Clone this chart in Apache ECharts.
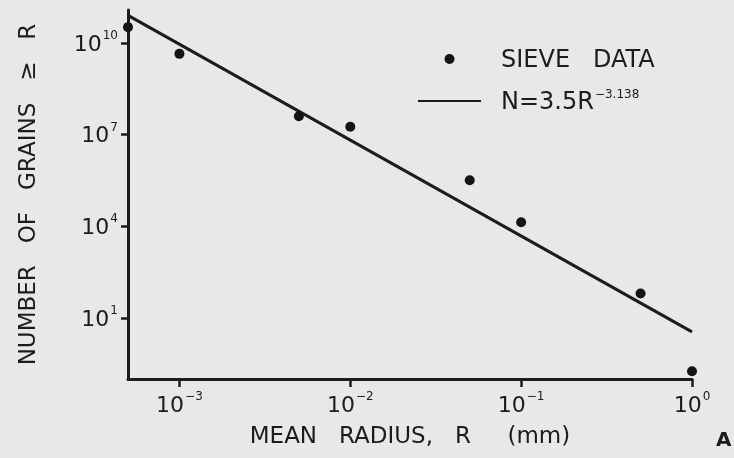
<!DOCTYPE html>
<html>
<head>
<meta charset="utf-8">
<script src="https://cdn.jsdelivr.net/npm/echarts@6/dist/echarts.min.js"></script>
<style>
html,body{margin:0;padding:0;background:#e8e8e6;}
#c{width:734px;height:458px;}
</style>
</head>
<body>
<div id="c"></div>
<script>
// Sieve data: mean radius R (mm) and number of grains >= R
const radius = [5e-4, 1e-3, 5e-3, 1e-2, 5e-2, 1e-1, 5e-1, 1];
const grains = [3.3e10, 4.4e9, 4.0e7, 1.8e7, 3.2e5, 1.35e4, 63, 0.18];
// Fitted power law N = 3.5 R^-3.138, endpoints
const fitR = [5e-4, 1];
const fitN = [8.0e10, 3.5];
const xTicks = [1e-3, 1e-2, 1e-1, 1];
const yTicks = [10, 1e4, 1e7, 1e10];

const FONT = 'DejaVu Sans';
const INK = '#1c1c1c';

function powLabel(v) {
  const e = Math.round(Math.log10(v));
  const es = e < 0 ? '\u2212' + (-e) : String(e);
  return '{b|10}{s|' + es + '}';
}
const richTick = {
  b: {fontSize: 22, fontFamily: FONT, color: INK, lineHeight: 26, verticalAlign: 'bottom'},
  s: {fontSize: 12, fontFamily: FONT, color: INK, lineHeight: 26, verticalAlign: 'top', padding: [0, 0, 0, 1]}
};

const chart = echarts.init(document.getElementById('c'));
chart.setOption({
  backgroundColor: '#e8e8e6',
  animation: false,
  title: {
    text: 'A', left: 711, top: 426,
    textStyle: {fontSize: 20, fontWeight: 'bold', fontFamily: FONT, color: INK}
  },
  grid: {left: 128, right: 42, top: 10, bottom: 79},
  legend: {
    orient: 'vertical', left: 417, top: 49, padding: 0, itemWidth: 63, itemHeight: 10, itemGap: 14,
    data: [
      {name: 'SIEVE DATA', icon: 'circle'},
      {name: 'FIT', itemStyle: {opacity: 0}}
    ],
    formatter: function (name) {
      if (name === 'FIT') return '{a|N=3.5R}{s|\u22123.138}';
      return '{a|SIEVE   DATA}';
    },
    textStyle: {
      color: INK,
      rich: {
        a: {fontSize: 24, fontFamily: FONT, color: INK, padding: [0, 0, 0, 15], lineHeight: 28, verticalAlign: 'bottom'},
        s: {fontSize: 12, fontFamily: FONT, color: INK, lineHeight: 28, verticalAlign: 'top', padding: [2, 0, 0, 1]}
      }
    }
  },
  xAxis: {
    type: 'log', min: 5e-4, max: 1,
    name: 'MEAN   RADIUS,   R     (mm)', nameLocation: 'middle', nameGap: 47,
    nameTextStyle: {fontSize: 23, fontFamily: FONT, color: INK},
    axisLine: {lineStyle: {color: INK, width: 3}},
    axisTick: {show: true, length: 8, lineStyle: {color: INK, width: 2.5}, customValues: xTicks},
    axisLabel: {customValues: xTicks, formatter: powLabel, rich: richTick, margin: 12},
    splitLine: {show: false}, minorTick: {show: false}
  },
  yAxis: {
    type: 'log', min: 0.1, max: 1.2e11,
    name: 'NUMBER   OF   GRAINS   \u2265   R', nameLocation: 'middle', nameGap: 87,
    nameTextStyle: {fontSize: 23, fontFamily: FONT, color: INK},
    axisLine: {show: true, lineStyle: {color: INK, width: 3}},
    axisTick: {show: true, length: 7, lineStyle: {color: INK, width: 2.5}, customValues: yTicks},
    axisLabel: {customValues: yTicks, formatter: powLabel, rich: richTick, margin: 10},
    splitLine: {show: false}, minorTick: {show: false}
  },
  series: [
    {
      name: 'SIEVE DATA', type: 'scatter', symbol: 'circle', symbolSize: 10,
      itemStyle: {color: '#141414', opacity: 1},
      data: radius.map((r, i) => [r, grains[i]]),
      z: 3
    },
    {
      name: 'FIT', type: 'line', showSymbol: false, symbol: 'none',
      lineStyle: {color: INK, width: 3},
      itemStyle: {color: INK},
      data: fitR.map((r, i) => [r, fitN[i]]),
      z: 2
    }
  ]
});
</script>
</body>
</html>
